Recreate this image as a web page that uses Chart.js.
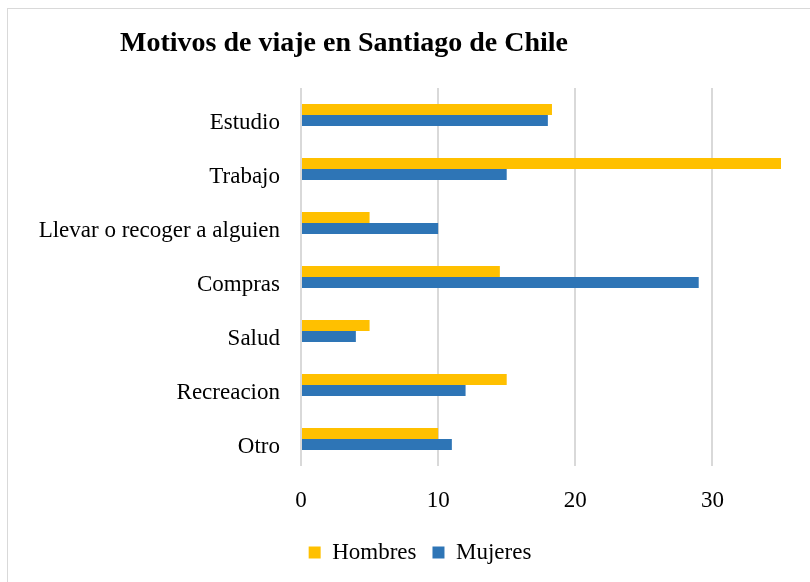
<!DOCTYPE html>
<html>
<head>
<meta charset="utf-8">
<script src="https://cdn.jsdelivr.net/npm/chart.js@4"></script>
<style>
    body { margin: 0; background: #fff; overflow: hidden; }
    #wrap { position: relative; width: 810px; height: 582px; }
    #frame { position: absolute; left: 7px; top: 8px; width: 820px; height: 600px; border: 1px solid #d9d9d9; }
    #title { position: absolute; left: 120px; top: 28px; font: bold 28px 'Liberation Serif', 'Times New Roman', serif; color: #000; white-space: nowrap; line-height: 28px; }
    canvas { position: absolute; left: 0; top: 0; }
</style>
</head>
<body>
<div id="wrap">
    <div id="frame"></div>
    <canvas id="motivosChart" width="810" height="582"></canvas>
    <div id="title">Motivos de viaje en Santiago de Chile</div>
</div>
<script>
// 数据
const categorias = ['Estudio', 'Trabajo', 'Llevar o recoger a alguien', 'Compras', 'Salud', 'Recreacion', 'Otro'];
const hombres = [18.3, 35, 5, 14.5, 5, 15, 10];
const mujeres = [18, 15, 10, 29, 4, 12, 11];
const ticksX = [0, 10, 20, 30];

const fuente = "'Liberation Serif', 'Times New Roman', serif";

// 横向柱状图
const ctx = document.getElementById('motivosChart').getContext('2d');
const motivosChart = new Chart(ctx, {
    type: 'bar',
    data: {
        labels: categorias,
        datasets: [
            {
                label: 'Hombres',
                data: hombres,
                backgroundColor: '#FFC000',
                borderWidth: 0
            },
            {
                label: 'Mujeres',
                data: mujeres,
                backgroundColor: '#2E75B6',
                borderWidth: 0
            }
        ]
    },
    options: {
        indexAxis: 'y',
        responsive: false,
        devicePixelRatio: 1,
        animation: false,
        categoryPercentage: 0.41,
        barPercentage: 1,
        layout: {
            padding: { top: 88, left: 30, right: 0, bottom: 8 }
        },
        plugins: {
            legend: {
                position: 'bottom',
                labels: {
                    boxWidth: 12,
                    boxHeight: 12,
                    padding: 16,
                    color: '#000',
                    font: { family: fuente, size: 23 }
                }
            },
            tooltip: { enabled: false }
        },
        scales: {
            x: {
                min: 0,
                max: 35,
                ticks: {
                    stepSize: 10,
                    padding: 21,
                    color: '#000',
                    font: { family: fuente, size: 23 }
                },
                afterBuildTicks: function(scale) {
                    scale.ticks = ticksX.map(v => ({ value: v }));
                },
                afterFit: function(scale) {
                    scale.height = 59;
                },
                grid: {
                    color: '#d9d9d9',
                    lineWidth: 2,
                    drawTicks: false
                },
                border: { display: false }
            },
            y: {
                ticks: {
                    padding: 21,
                    labelOffset: 8,
                    color: '#000',
                    font: { family: fuente, size: 23 }
                },
                afterFit: function(scale) {
                    scale.width = 271;
                },
                grid: { display: false, drawTicks: false },
                border: { display: false }
            },
            // 右侧留白
            derecha: {
                type: 'category',
                position: 'right',
                ticks: { display: false },
                afterFit: function(scale) {
                    scale.width = 29;
                },
                grid: { display: false, drawTicks: false },
                border: { display: false }
            }
        }
    }
});
</script>
</body>
</html>
